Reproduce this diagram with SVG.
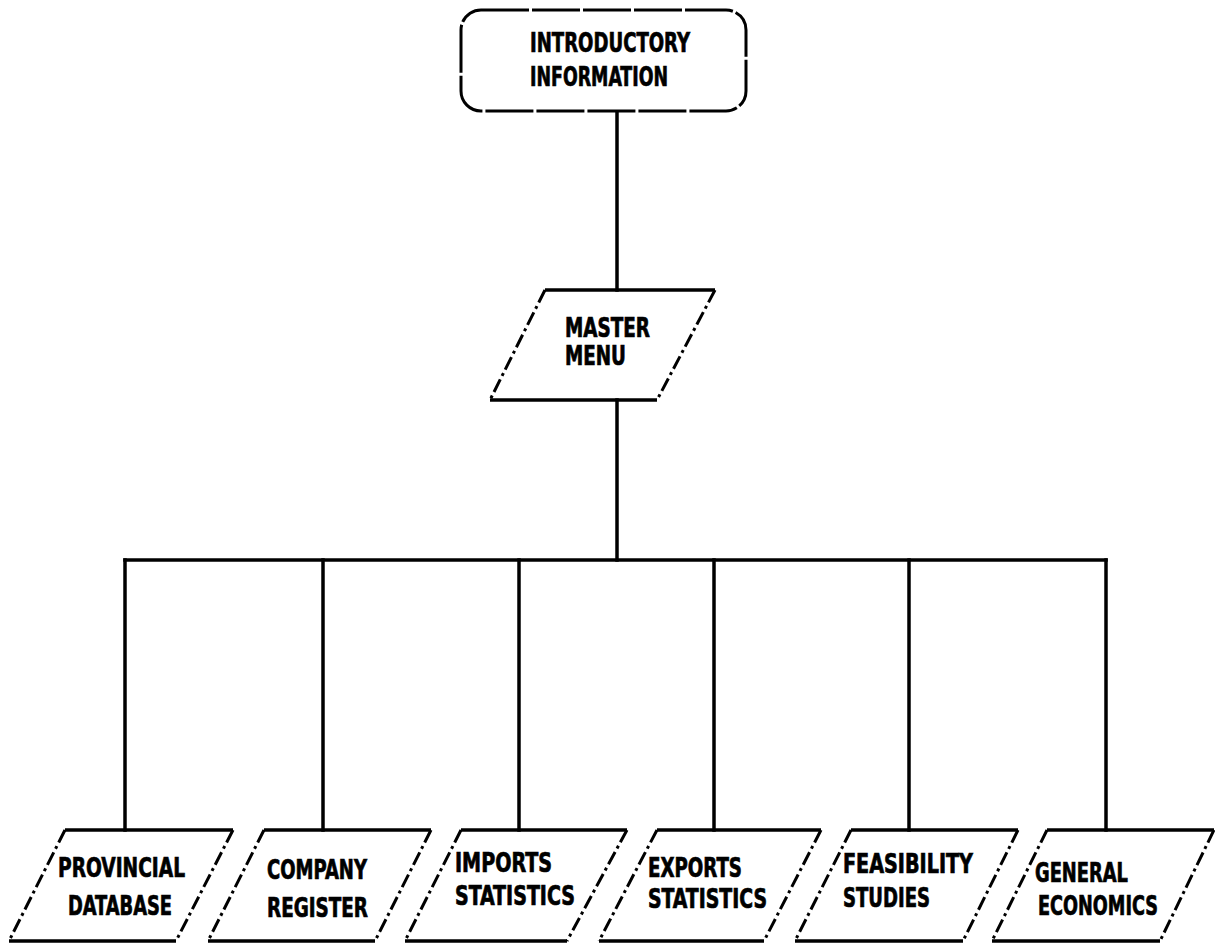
<svg xmlns="http://www.w3.org/2000/svg" width="1215" height="944" viewBox="0 0 1215 944">
  <style>
    .edge { stroke: #000; stroke-width: 3.5; fill: none; stroke-linecap: square; }
    .solid { stroke: #000; stroke-width: 3.5; fill: none; }
    .side { stroke: #000; stroke-width: 3; fill: none; stroke-dasharray: 14 4 3 4; }
    .box { stroke: #000; stroke-width: 3; fill: #fff; stroke-dasharray: 48 3; }
    .lbl { font-family: "DejaVu Sans Condensed", "DejaVu Sans", sans-serif; font-weight: bold; font-size: 26px; fill: #000; stroke: #000; stroke-width: 0.7; }
  </style>
  <rect width="1215" height="944" fill="#fff"/>

  <!-- connectors -->
  <g id="connectors">
    <line class="edge" x1="617" y1="112" x2="617" y2="290"/>
    <line class="edge" x1="617" y1="400" x2="617" y2="560"/>
    <line class="edge" x1="125" y1="560" x2="1106" y2="560"/>
    <line class="edge" x1="125" y1="560" x2="125" y2="830"/>
    <line class="edge" x1="323" y1="560" x2="323" y2="830"/>
    <line class="edge" x1="519" y1="560" x2="519" y2="830"/>
    <line class="edge" x1="714" y1="560" x2="714" y2="830"/>
    <line class="edge" x1="909" y1="560" x2="909" y2="830"/>
    <line class="edge" x1="1106" y1="560" x2="1106" y2="830"/>
  </g>

  <!-- top node -->
  <g id="introductory">
    <rect class="box" x="461" y="10" width="285" height="101" rx="20" ry="20"/>
    <text class="lbl" x="530" y="52" textLength="160" lengthAdjust="spacingAndGlyphs">INTRODUCTORY</text>
    <text class="lbl" x="530" y="86" textLength="138" lengthAdjust="spacingAndGlyphs">INFORMATION</text>
  </g>

  <!-- master menu -->
  <g id="master-menu">
    <line class="solid" x1="545" y1="290" x2="715" y2="290"/>
    <line class="solid" x1="490" y1="400" x2="657" y2="400"/>
    <line class="side" x1="545" y1="290" x2="490" y2="400"/>
    <line class="side" x1="715" y1="290" x2="657" y2="400"/>
    <text class="lbl" x="565" y="337" textLength="85" lengthAdjust="spacingAndGlyphs">MASTER</text>
    <text class="lbl" x="565" y="365" textLength="61" lengthAdjust="spacingAndGlyphs">MENU</text>
  </g>

  <!-- submenu nodes -->
  <g id="provincial-database">
    <line class="solid" x1="65" y1="830" x2="233" y2="830"/>
    <line class="solid" x1="9" y1="941" x2="176" y2="941"/>
    <line class="side" x1="65" y1="830" x2="9" y2="941"/>
    <line class="side" x1="233" y1="830" x2="176" y2="941"/>
    <text class="lbl" x="58" y="877" textLength="127" lengthAdjust="spacingAndGlyphs">PROVINCIAL</text>
    <text class="lbl" x="68" y="915" textLength="104" lengthAdjust="spacingAndGlyphs">DATABASE</text>
  </g>

  <g id="company-register">
    <line class="solid" x1="264" y1="830" x2="431" y2="830"/>
    <line class="solid" x1="208" y1="941" x2="375" y2="941"/>
    <line class="side" x1="264" y1="830" x2="208" y2="941"/>
    <line class="side" x1="431" y1="830" x2="375" y2="941"/>
    <text class="lbl" x="267" y="879" textLength="100" lengthAdjust="spacingAndGlyphs">COMPANY</text>
    <text class="lbl" x="267" y="917" textLength="101" lengthAdjust="spacingAndGlyphs">REGISTER</text>
  </g>

  <g id="imports-statistics">
    <line class="solid" x1="461" y1="830" x2="627" y2="830"/>
    <line class="solid" x1="405" y1="941" x2="567" y2="941"/>
    <line class="side" x1="461" y1="830" x2="405" y2="941"/>
    <line class="side" x1="627" y1="830" x2="567" y2="941"/>
    <text class="lbl" x="455" y="872" textLength="97" lengthAdjust="spacingAndGlyphs">IMPORTS</text>
    <text class="lbl" x="455" y="905" textLength="120" lengthAdjust="spacingAndGlyphs">STATISTICS</text>
  </g>

  <g id="exports-statistics">
    <line class="solid" x1="657" y1="830" x2="821" y2="830"/>
    <line class="solid" x1="599" y1="941" x2="764" y2="941"/>
    <line class="side" x1="657" y1="830" x2="599" y2="941"/>
    <line class="side" x1="821" y1="830" x2="764" y2="941"/>
    <text class="lbl" x="648" y="877" textLength="94" lengthAdjust="spacingAndGlyphs">EXPORTS</text>
    <text class="lbl" x="648" y="908" textLength="119" lengthAdjust="spacingAndGlyphs">STATISTICS</text>
  </g>

  <g id="feasibility-studies">
    <line class="solid" x1="851" y1="830" x2="1018" y2="830"/>
    <line class="solid" x1="795" y1="941" x2="963" y2="941"/>
    <line class="side" x1="851" y1="830" x2="795" y2="941"/>
    <line class="side" x1="1018" y1="830" x2="963" y2="941"/>
    <text class="lbl" x="843" y="873" textLength="130" lengthAdjust="spacingAndGlyphs">FEASIBILITY</text>
    <text class="lbl" x="843" y="907" textLength="87" lengthAdjust="spacingAndGlyphs">STUDIES</text>
  </g>

  <g id="general-economics">
    <line class="solid" x1="1047" y1="830" x2="1214" y2="830"/>
    <line class="solid" x1="992" y1="941" x2="1160" y2="941"/>
    <line class="side" x1="1047" y1="830" x2="992" y2="941"/>
    <line class="side" x1="1214" y1="830" x2="1160" y2="941"/>
    <text class="lbl" x="1035" y="882" textLength="93" lengthAdjust="spacingAndGlyphs">GENERAL</text>
    <text class="lbl" x="1038" y="915" textLength="120" lengthAdjust="spacingAndGlyphs">ECONOMICS</text>
  </g>
</svg>
